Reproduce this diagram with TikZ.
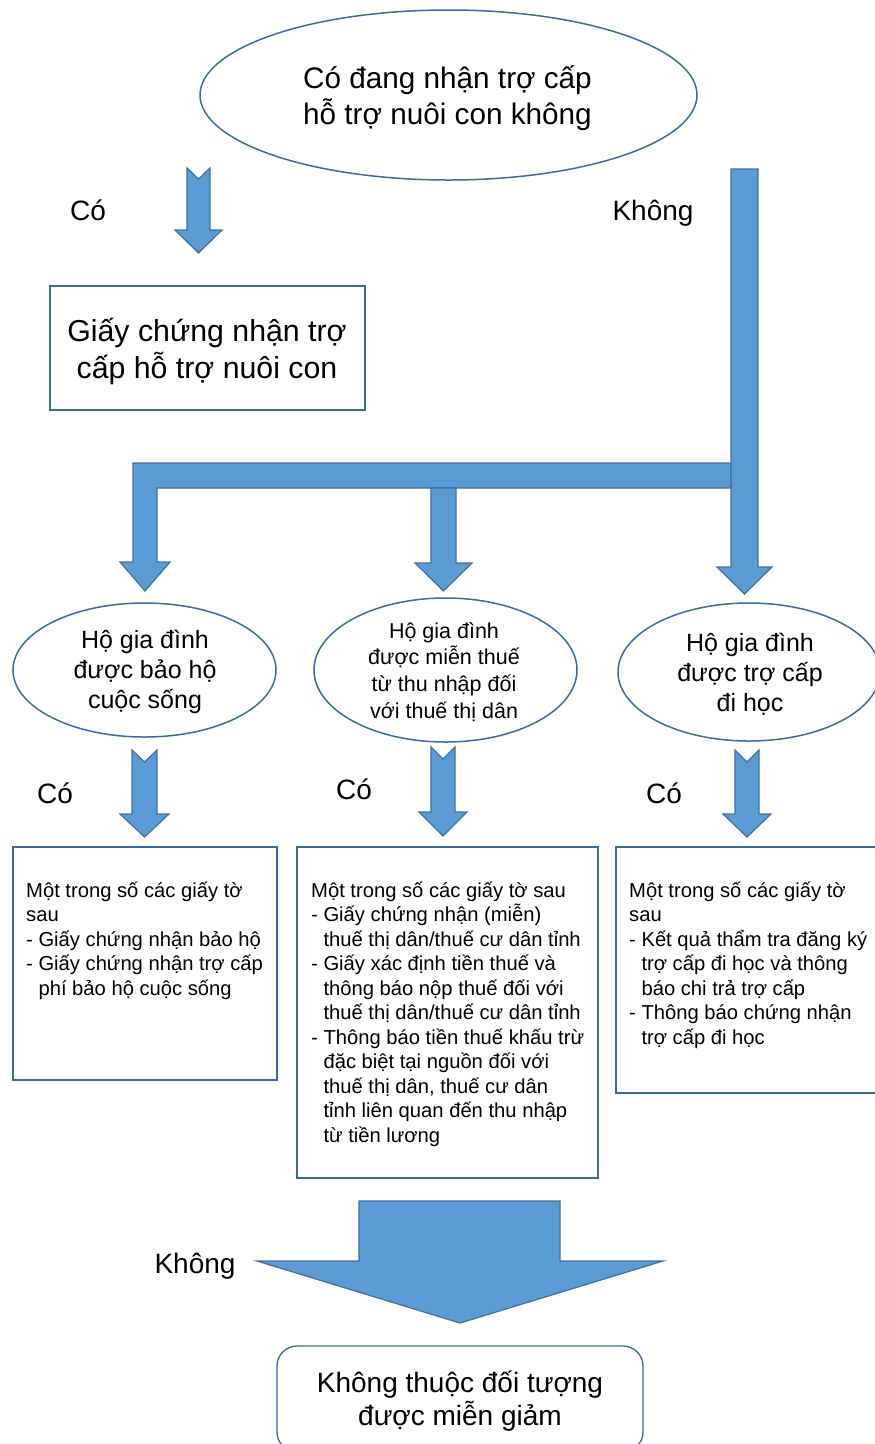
\documentclass[tikz,border=0pt]{standalone}
\usepackage{fontspec}
\setmainfont{Liberation Sans}
\usetikzlibrary{shapes.geometric}
\definecolor{arrfill}{HTML}{5B9BD5}
\definecolor{arrline}{HTML}{41719C}
\definecolor{shapeline}{HTML}{3A6AA8}
\begin{document}
\begin{tikzpicture}[x=1pt,y=-1pt,
  blockarrow/.style={fill=arrfill, draw=arrline, line width=1.2pt, line join=miter},
  boxshape/.style={draw=shapeline, line width=1.3pt, rectangle, inner sep=0pt},
  ellshape/.style={draw=shapeline, line width=1.5pt, ellipse, inner sep=0pt},
  txt/.style={anchor=base, inner sep=0pt, text=black},
  lbl/.style={anchor=base, inner sep=0pt, font=\fontsize{28}{33}\selectfont},
]
\useasboundingbox (0,0) rectangle (875,1444);

% shapes
\node[ellshape, minimum width=497pt, minimum height=170pt] (q) at (448.5,95) {};
\node[boxshape, minimum width=315pt, minimum height=124pt] (cert) at (207.5,348) {};
\node[ellshape, minimum width=263pt, minimum height=134pt] (e1) at (144.5,670) {};
\node[ellshape, minimum width=263pt, minimum height=144pt] (e2) at (445.5,670) {};
\node[ellshape, minimum width=262pt, minimum height=138pt] (e3) at (749,672) {};
\node[boxshape, minimum width=264pt, minimum height=233pt] (b1) at (145,963.5) {};
\node[boxshape, minimum width=301pt, minimum height=331pt] (b2) at (447.5,1012.5) {};
\node[boxshape, minimum width=264pt, minimum height=246pt] (b3) at (748,970) {};
\node[boxshape, rounded corners=20pt, minimum width=366pt, minimum height=106pt] (fin) at (460,1399) {};

% block arrows
\draw[blockarrow] (187,168) -- (198.5,179) -- (210,168) -- (210,230) -- (222,230) -- (198.5,253) -- (175,230) -- (187,230) -- cycle;
\draw[blockarrow] (731,463) -- (133,463) -- (133,562) -- (120,562) -- (145,591) -- (170,562) -- (157,562) -- (157,488) -- (731,488) -- cycle;
\draw[blockarrow] (431,488) -- (456,488) -- (456,563) -- (472,563) -- (443.5,591) -- (415,563) -- (431,563) -- cycle;
\draw[blockarrow] (731,169) -- (758,169) -- (758,567) -- (772,567) -- (744.5,594) -- (717,567) -- (731,567) -- cycle;
\draw[blockarrow] (132,750) -- (144.5,762) -- (157,750) -- (157,814) -- (169,814) -- (144.5,837) -- (120,814) -- (132,814) -- cycle;
\draw[blockarrow] (431,747) -- (443,759) -- (455,747) -- (455,812) -- (467,812) -- (443,836) -- (419,812) -- (431,812) -- cycle;
\draw[blockarrow] (735,750) -- (747,762) -- (759,750) -- (759,814) -- (771,814) -- (747,837) -- (723,814) -- (735,814) -- cycle;
\draw[blockarrow] (359,1201) -- (560,1201) -- (560,1261) -- (663,1261) -- (460,1323) -- (257,1261) -- (359,1261) -- cycle;

% labels
\node[lbl] (lco1) at (88,220) {Có};
\node[lbl] (lkh1) at (653,220) {Không};
\node[lbl] (lco2) at (55,803) {Có};
\node[lbl] (lco3) at (354,799) {Có};
\node[lbl] (lco4) at (664,803) {Có};
\node[lbl] (lkh2) at (195,1273) {Không};

% texts
\node[txt] (tq) at (447.5,88) {\parbox[t]{480pt}{\centering\fontsize{29.7}{36}\selectfont Có đang nhận trợ cấp\\hỗ trợ nuôi con không}};
\node[txt] (tcert) at (207,341) {\parbox[t]{310pt}{\centering\fontsize{30.3}{37}\selectfont Giấy chứng nhận trợ\\cấp hỗ trợ nuôi con}};
\node[txt] (te1) at (145,648) {\parbox[t]{250pt}{\centering\fontsize{25}{30}\selectfont Hộ gia đình\\được bảo hộ\\cuộc sống}};
\node[txt] (te2) at (444,638) {\parbox[t]{250pt}{\centering\fontsize{21.5}{26.7}\selectfont Hộ gia đình\\được miễn thuế\\từ thu nhập đối\\với thuế thị dân}};
\node[txt] (te3) at (750,651) {\parbox[t]{250pt}{\centering\fontsize{25}{30}\selectfont Hộ gia đình\\được trợ cấp\\đi học}};
\node[txt, anchor=base west] (tb1) at (26,897) {\parbox[t]{280pt}{\raggedright\fontsize{20.2}{24.5}\selectfont Một trong số các giấy tờ\\sau\\- Giấy chứng nhận bảo hộ\\- Giấy chứng nhận trợ cấp\\\phantom{- }phí bảo hộ cuộc sống}};
\node[txt, anchor=base west] (tb2) at (311,897) {\parbox[t]{300pt}{\raggedright\fontsize{20.2}{24.5}\selectfont Một trong số các giấy tờ sau\\- Giấy chứng nhận (miễn)\\\phantom{- }thuế thị dân/thuế cư dân tỉnh\\- Giấy xác định tiền thuế và\\\phantom{- }thông báo nộp thuế đối với\\\phantom{- }thuế thị dân/thuế cư dân tỉnh\\- Thông báo tiền thuế khấu trừ\\\phantom{- }đặc biệt tại nguồn đối với\\\phantom{- }thuế thị dân, thuế cư dân\\\phantom{- }tỉnh liên quan đến thu nhập\\\phantom{- }từ tiền lương}};
\node[txt, anchor=base west] (tb3) at (629,897) {\parbox[t]{280pt}{\raggedright\fontsize{20.2}{24.5}\selectfont Một trong số các giấy tờ\\sau\\- Kết quả thẩm tra đăng ký\\\phantom{- }trợ cấp đi học và thông\\\phantom{- }báo chi trả trợ cấp\\- Thông báo chứng nhận\\\phantom{- }trợ cấp đi học}};
\node[txt] (tfin) at (460,1392) {\parbox[t]{360pt}{\centering\fontsize{28}{33}\selectfont Không thuộc đối tượng\\được miễn giảm}};
\end{tikzpicture}
\end{document}
